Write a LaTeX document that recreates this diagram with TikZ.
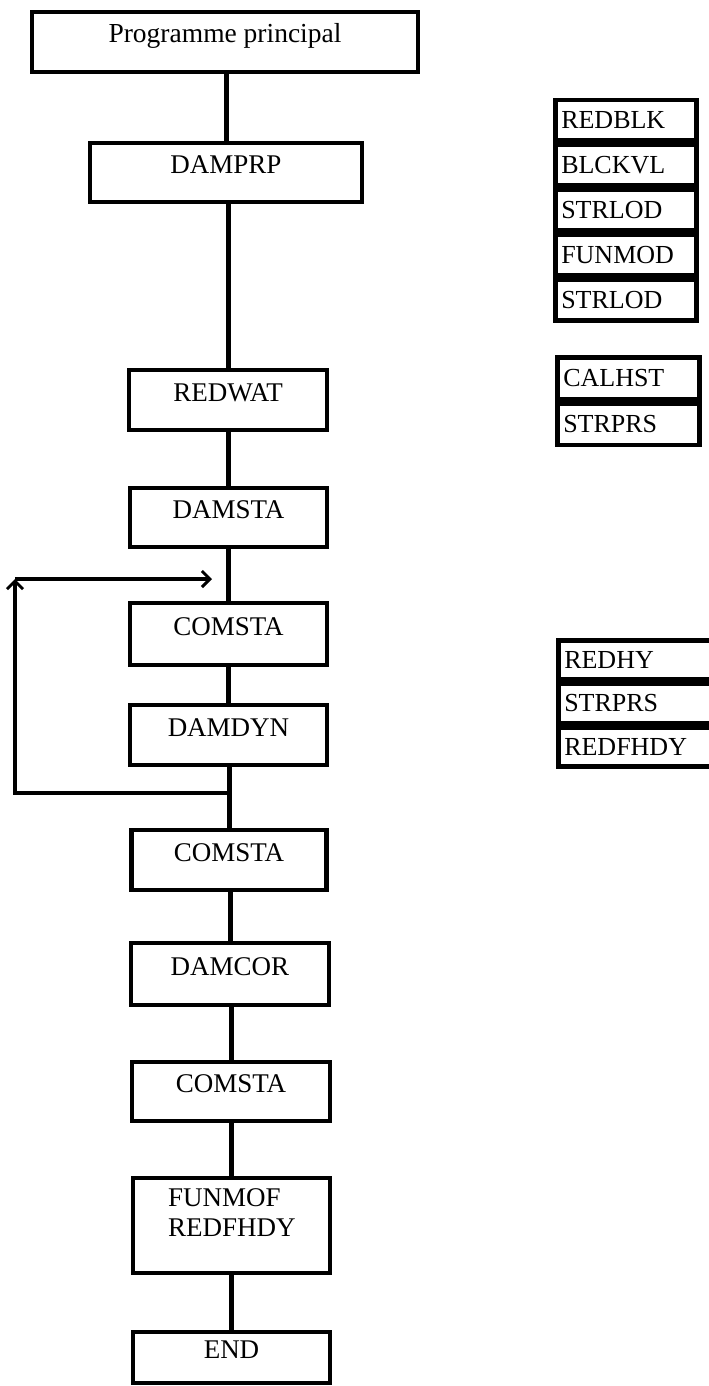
\documentclass[tikz,border=0pt]{standalone}
\usepackage{fontspec}
\setmainfont{Liberation Serif}
\usetikzlibrary{arrows.meta}
\begin{document}
\begin{tikzpicture}[x=1pt,y=-1pt,
  mainbox/.style={draw, line width=4.5pt, inner sep=0pt, text height=18pt, text depth=16pt, font=\fontsize{27}{31}\selectfont},
  sidebox/.style={draw, line width=4.5pt, anchor=north west, inner xsep=6pt, inner ysep=0pt, align=left, font=\fontsize{26}{30}\selectfont},
  link/.style={line width=5pt},
  fb/.style={line width=3.5pt},
  fbarrow/.style={fb, -{Straight Barb[length=8pt,width=16pt,line width=3pt]}},
]
\useasboundingbox[fill=white] (0,0) rectangle (709,1386);

% main column
\node[mainbox, minimum width=386pt, minimum height=60pt, font=\fontsize{27.5}{31}\selectfont] (main) at (225,42) {Programme principal};
\node[mainbox, minimum width=272pt, minimum height=59pt] (damprp) at (226,172.5) {DAMPRP};
\node[mainbox, minimum width=198pt, minimum height=60pt] (redwat) at (228,400) {REDWAT};
\node[mainbox, minimum width=197pt, minimum height=59pt] (damsta) at (228.5,517.5) {DAMSTA};
\node[mainbox, minimum width=197pt, minimum height=62pt] (comsta1) at (228.5,634) {COMSTA};
\node[mainbox, minimum width=197pt, minimum height=60pt] (damdyn) at (228.5,735) {DAMDYN};
\node[mainbox, minimum width=195pt, minimum height=60pt] (comsta2) at (229,860) {COMSTA};
\node[mainbox, minimum width=198pt, minimum height=62pt] (damcor) at (230,974) {DAMCOR};
\node[mainbox, minimum width=198pt, minimum height=59pt] (comsta3) at (231,1091.5) {COMSTA};
\node[draw, line width=4.5pt, minimum width=197pt, minimum height=95pt, inner sep=0pt] (funmof) at (231.5,1225.5) {};
\node[anchor=north west, align=left, inner sep=0pt, font=\fontsize{27}{30}\selectfont] (funmoftxt) at (168,1188) {FUNMOF\\REDFHDY};
\node[mainbox, minimum width=197pt, minimum height=51pt] (end) at (231.5,1357.5) {END};

% connectors
\draw[link] (main.south -| damprp.north) -- (damprp.north);
\draw[link] (damprp.south -| redwat.north) -- (redwat.north);
\draw[link] (redwat.south -| damsta.north) -- (damsta.north);
\draw[link] (damsta.south -| comsta1.north) -- (comsta1.north);
\draw[link] (comsta1.south -| damdyn.north) -- (damdyn.north);
\draw[link] (damdyn.south -| comsta2.north) -- (comsta2.north);
\draw[link] (comsta2.south -| damcor.north) -- (damcor.north);
\draw[link] (damcor.south -| comsta3.north) -- (comsta3.north);
\draw[link] (comsta3.south -| funmof.north) -- (funmof.north);
\draw[link] (funmof.south -| end.north) -- (end.north);

% feedback loop
\coordinate (j) at (228.5,793);
\coordinate (cl) at (15,793);
\coordinate (ct) at (15,579);
\coordinate (ce) at (212,579);
\draw[fbarrow] (j) -- (cl) -- (ct);
\draw[fbarrow] (ct) -- (ce);

% side group 1
\node[sidebox, text width=129pt, minimum height=40.4pt] (s11) at (553,98) {REDBLK};
\node[sidebox, text width=129pt, minimum height=40.4pt] (s12) at (s11.south west) {BLCKVL};
\node[sidebox, text width=129pt, minimum height=40.4pt] (s13) at (s12.south west) {STRLOD};
\node[sidebox, text width=129pt, minimum height=40.4pt] (s14) at (s13.south west) {FUNMOD};
\node[sidebox, text width=129pt, minimum height=40.4pt] (s15) at (s14.south west) {STRLOD};

% side group 2
\node[sidebox, text width=130pt, minimum height=41.5pt] (s21) at (555,355) {CALHST};
\node[sidebox, text width=130pt, minimum height=41.5pt] (s22) at (s21.south west) {STRPRS};

% side group 3
\node[sidebox, text width=152pt, minimum height=39pt] (s31) at (556,638) {REDHY};
\node[sidebox, text width=152pt, minimum height=39pt] (s32) at (s31.south west) {STRPRS};
\node[sidebox, text width=152pt, minimum height=39pt] (s33) at (s32.south west) {REDFHDY};
\end{tikzpicture}
\end{document}
